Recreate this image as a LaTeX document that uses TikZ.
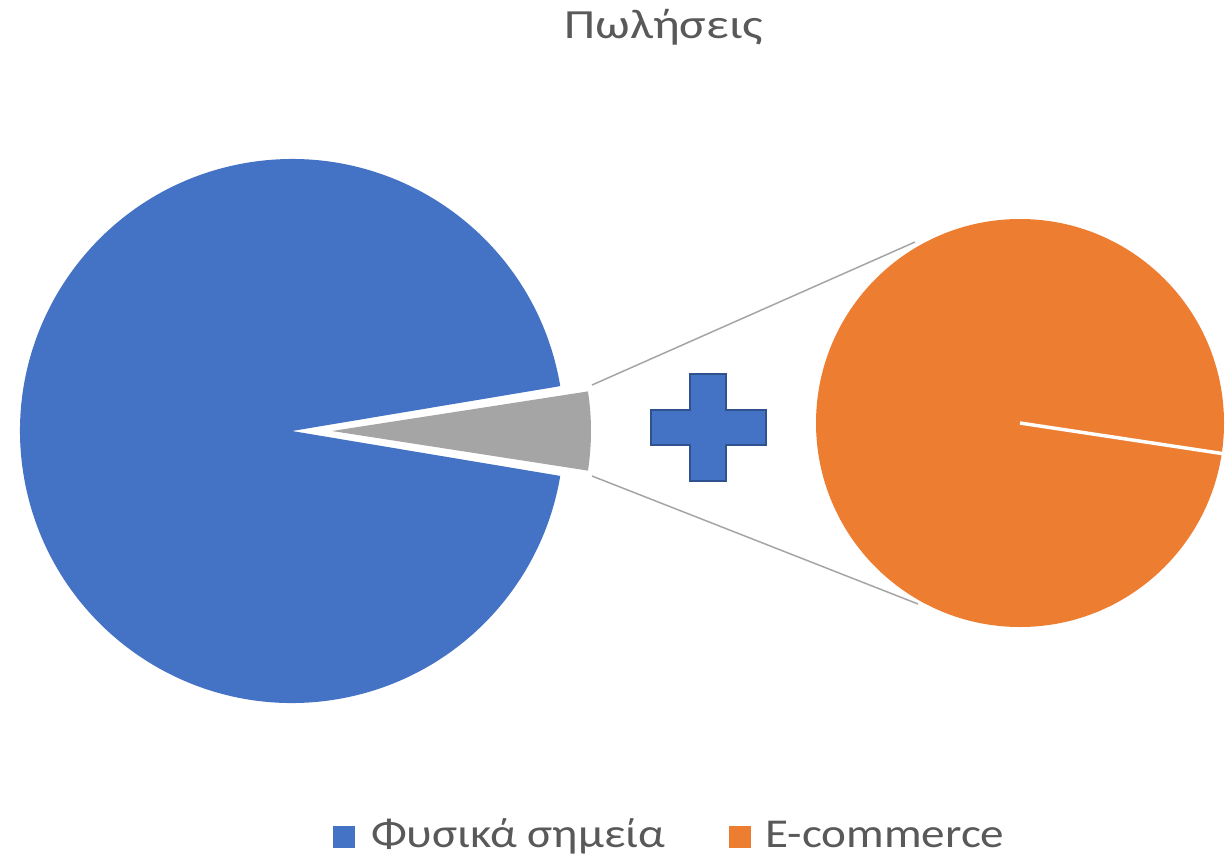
\documentclass[tikz,border=0pt]{standalone}
\usepackage{fontspec}
\setmainfont{Carlito}
\newfontfamily\widelegend[FakeStretch=1.15]{Carlito}
\newfontfamily\widetitle[FakeStretch=1.2]{Carlito}
\definecolor{pieblue}{HTML}{4472C4}
\definecolor{pieorange}{HTML}{ED7D31}
\definecolor{piegrey}{HTML}{A5A5A5}
\definecolor{txt}{HTML}{595959}
\definecolor{plusedge}{HTML}{2F528F}
\begin{document}
\begin{tikzpicture}[x=1pt,y=-1pt,
  title/.style={text=txt,font=\widetitle\fontsize{41.5}{44}\selectfont,anchor=base,inner sep=0pt},
  legtext/.style={text=txt,font=\widelegend\fontsize{41}{44}\selectfont,anchor=base west,inner sep=0pt},
  legbox/.style={minimum size=22pt,inner sep=0pt,anchor=south west},
  joinline/.style={draw=piegrey,line width=1.5pt}]
\useasboundingbox (0,0) rectangle (1230,860);
% title
\node[title] (t) at (664,38) {Πωλήσεις};
% main pie: blue
\fill[pieblue] (292,431) -- ++(9.5:272 and -272) arc[start angle=9.5,end angle=350.5,x radius=272,y radius=-272] -- cycle;
% grey slice
\fill[piegrey] (332,431) -- ++(8.8:259 and -259) arc[start angle=8.8,end angle=-8.8,x radius=259,y radius=-259] -- cycle;
% right pie
\fill[pieorange] (1020,423) circle[radius=204];
\coordinate (oc) at (1020,423);
\coordinate (oe) at (1222,453.5);
\draw[white,line width=3.5pt] (oc) -- (oe);
% connectors
\coordinate (g1) at (592,385);
\coordinate (g2) at (592,476);
\coordinate (o1) at (915,242);
\coordinate (o2) at (918,604);
\draw[joinline] (g1) -- (o1);
\draw[joinline] (g2) -- (o2);
% plus
\draw[fill=pieblue,draw=plusedge,line width=2pt]
  (690,374) -- (726,374) -- (726,410) -- (766,410) -- (766,445) -- (726,445)
  -- (726,481) -- (690,481) -- (690,445) -- (651,445) -- (651,410) -- (690,410) -- cycle;
% legend
\node[legbox,fill=pieblue] (b1) at (333,848) {};
\node[legtext] (l1) at (371,847) {Φυσικά σημεία};
\node[legbox,fill=pieorange] (b2) at (729,848) {};
\node[legtext] (l2) at (765,847) {E-commerce};
\end{tikzpicture}
\end{document}
